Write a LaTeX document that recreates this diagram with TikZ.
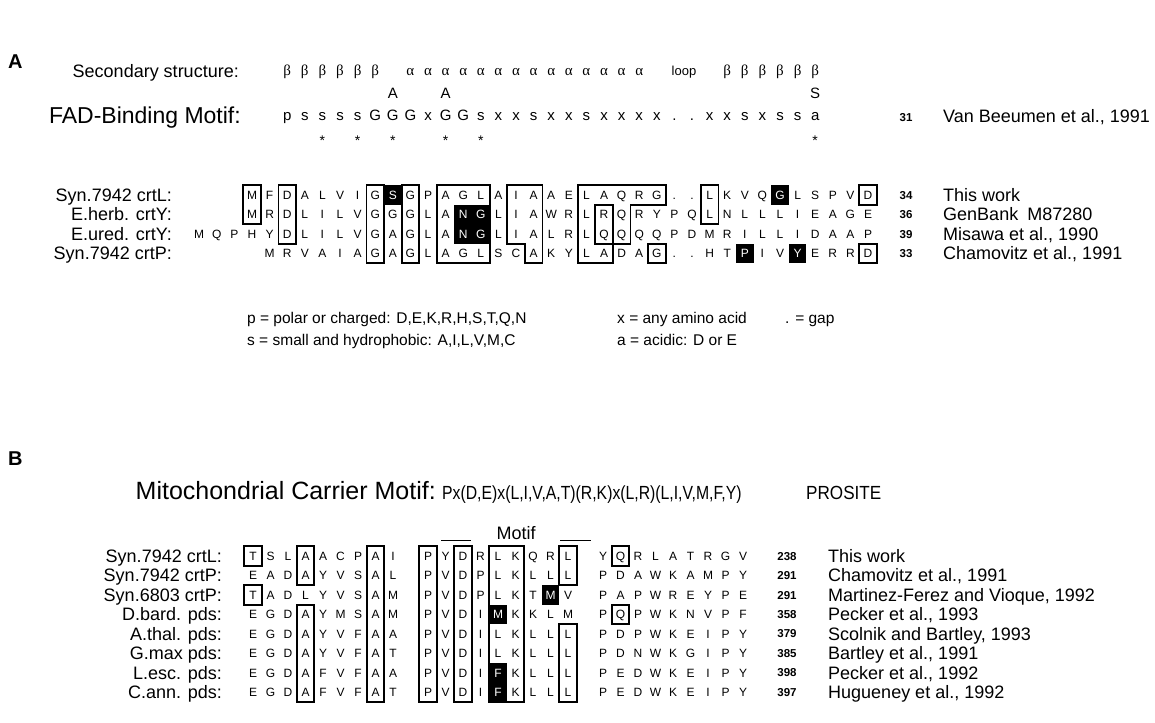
\documentclass[tikz,border=0pt]{standalone}
\usepackage{fontspec}
\setmainfont{Liberation Sans}
\newfontfamily\grk{Liberation Serif}
% ---------- helpers ----------
\newcommand{\blkA}[2]{% col row
  \fill[black] ({243.2+17.6*(#1-1)},{185.25+19.5*(#2-1)}) rectangle ++(17.6,19.5);
  \expandafter\gdef\csname blkA#2-#1\endcsname{}}
\newcommand{\boxA}[4]{% c1 c2 r1 r2
  \draw[bx] ({243.2+17.6*(#1-1)},{185.25+19.5*(#3-1)}) rectangle ({243.2+17.6*#2},{185.25+19.5*#4});}
\newcommand{\rowA}[3]{% row, start col, list
  \pgfmathsetmacro{\yy}{195+19.5*(#1-1)}%
  \foreach \ch [count=\k from #2] in {#3}{%
    \pgfmathsetmacro{\xx}{252+17.6*(\k-1)}%
    \pgfmathtruncatemacro{\nn}{\k+3}%
    \ifcsname blkA#1-\k\endcsname\def\cc{white}\else\def\cc{black}\fi
    \node[res,text=\cc] (A#1c\nn) at (\xx,\yy) {\ch};
  }}
\newcommand{\infoA}[4]{%
  \pgfmathsetmacro{\yy}{195+19.5*(#1-1)}%
  \node[lab] (lA#1) at (172,\yy+6.45) {#2};
  \node[num] (nA#1) at (906,\yy+4.1) {#3};
  \node[ref] (rA#1) at (943,\yy+6.45) {#4};}
\newcommand{\blkB}[2]{% col row
  \fill[black] ({244.25+17.5*(#1-1)},{546.275+19.45*(#2-1)}) rectangle ++(17.5,19.45);
  \expandafter\gdef\csname blkB#2-#1\endcsname{}}
\newcommand{\boxB}[4]{%
  \draw[bx] ({244.25+17.5*(#1-1)},{546.275+19.45*(#3-1)}) rectangle ({244.25+17.5*#2},{546.275+19.45*#4});}
\newcommand{\cellB}[3]{%
  \pgfmathsetmacro{\xx}{253+17.5*(#2-1)}%
  \ifcsname blkB#1-#2\endcsname\def\cc{white}\else\def\cc{black}\fi
  \node[res,text=\cc] (B#1c#2) at (\xx,\yy) {#3};}
\newcommand{\rowB}[4]{%
  \pgfmathsetmacro{\yy}{556+19.45*(#1-1)}%
  \foreach \ch [count=\k from 1] in {#2}{\cellB{#1}{\k}{\ch}}
  \foreach \ch [count=\k from 11] in {#3}{\cellB{#1}{\k}{\ch}}
  \foreach \ch [count=\k from 21] in {#4}{\cellB{#1}{\k}{\ch}}}
\newcommand{\infoB}[4]{%
  \pgfmathsetmacro{\yy}{556+19.45*(#1-1)}%
  \node[lab] (lB#1) at (222,\yy+6.45) {#2};
  \node[num] (nB#1) at (787,\yy+4.1) {#3};
  \node[ref] (rB#1) at (828,\yy+6.45) {#4};}
\begin{document}
\begin{tikzpicture}[x=1pt,y=-1pt,
 res/.style={font=\fontsize{12}{12}\selectfont,inner sep=0pt,text height=8.6pt,text depth=0pt,anchor=center},
 lab/.style={font=\fontsize{18}{20}\selectfont,inner sep=0pt,anchor=base east},
 ref/.style={font=\fontsize{18}{20}\selectfont,inner sep=0pt,anchor=base west},
 num/.style={font=\bfseries\fontsize{11.5}{12}\selectfont,inner sep=0pt,anchor=base},
 bx/.style={line width=1.8pt},
 motl/.style={font=\fontsize{15}{15}\selectfont,inner sep=0pt,anchor=base},
 grl/.style={font=\grk\fontsize{15}{15}\selectfont,inner sep=0pt,anchor=base},
 leg/.style={font=\fontsize{15.5}{16}\selectfont,inner sep=0pt,anchor=base west},
 panel/.style={font=\bfseries\fontsize{20}{20}\selectfont,inner sep=0pt,anchor=base west},
 star/.style={font=\fontsize{14}{14}\selectfont,inner sep=0pt,anchor=base},
 cond/.style={inner sep=0pt,anchor=base west},
]
\useasboundingbox[fill=white] (0,0) rectangle (1155,722);

% ================= Panel A =================
\node[panel] (pA) at (8,69) {A};
\node[lab] (ss) at (239,77.5) {Secondary structure:};
\foreach \c in {3,...,8} \node[grl] (be\c) at ({252+17.6*(\c-1)},76) {β};
\foreach \c in {10,...,23} \node[grl] (al\c) at ({252+17.6*(\c-1)},76) {α};
\node[font=\fontsize{13}{13}\selectfont,inner sep=0pt,anchor=base] (loop) at (684,76) {loop};
\foreach \c in {28,...,33} \node[grl] (bf\c) at ({252+17.6*(\c-1)},76) {β};

\node[motl] (alt9) at ({252+17.6*8},98.4) {A};
\node[motl] (alt12) at ({252+17.6*11},98.4) {A};
\node[motl] (alt33) at ({252+17.6*32},98.4) {S};

\node[font=\fontsize{23}{24}\selectfont,inner sep=0pt,anchor=base east] (fad) at (241,124) {FAD-Binding Motif:};
\foreach \ch [count=\k from 3] in {p,s,s,s,s,G,G,G,x,G,G,s,x,x,s,x,x,s,x,x,x,x,.,.,x,x,s,x,s,s,a}
  \node[motl] (m\k) at ({252+17.6*(\k-1)},121) {\ch};
\node[num] (n0) at (906,121.5) {31};
\node[ref] (r0) at (943,122.5) {Van Beeumen et al., 1991};
\foreach \c in {5,7,9,12,14,33} \node[star] (st\c) at ({252+17.6*(\c-1)},146) {*};

% black cells (before letters)
\blkA{9}{1}
\blkA{13}{2}\blkA{14}{2}\blkA{13}{3}\blkA{14}{3}
\blkA{31}{1}
\blkA{29}{4}\blkA{32}{4}

\rowA{1}{1}{M,F,D,A,L,V,I,G,S,G,P,A,G,L,A,I,A,A,E,L,A,Q,R,G,.,.,L,K,V,Q,G,L,S,P,V,D}
\rowA{2}{1}{M,R,D,L,I,L,V,G,G,G,L,A,N,G,L,I,A,W,R,L,R,Q,R,Y,P,Q,L,N,L,L,L,I,E,A,G,E}
\rowA{3}{-2}{M,Q,P,H,Y,D,L,I,L,V,G,A,G,L,A,N,G,L,I,A,L,R,L,Q,Q,Q,Q,P,D,M,R,I,L,L,I,D,A,A,P}
\rowA{4}{2}{M,R,V,A,I,A,G,A,G,L,A,G,L,S,C,A,K,Y,L,A,D,A,G,.,.,H,T,P,I,V,Y,E,R,R,D}

\infoA{1}{Syn.7942 crtL:}{34}{This work}
\infoA{2}{E.herb. crtY:}{36}{GenBank\enspace M87280}
\infoA{3}{E.ured. crtY:}{39}{Misawa et al., 1990}
\infoA{4}{Syn.7942 crtP:}{33}{Chamovitz et al., 1991}

% boxes
\boxA{1}{1}{1}{2}
\boxA{3}{3}{1}{3}
\boxA{8}{8}{1}{4}
\boxA{10}{10}{1}{4}
\boxA{12}{14}{1}{4}
\draw[bx] ({243.2+17.6*15},185.25) -- ({243.2+17.6*17},185.25) -- ({243.2+17.6*17},{185.25+19.5*4})
  -- ({243.2+17.6*16},{185.25+19.5*4}) -- ({243.2+17.6*16},{185.25+19.5*3}) -- ({243.2+17.6*15},{185.25+19.5*3}) -- cycle;
\draw[bx] ({243.2+17.6*19},185.25) -- ({243.2+17.6*24},185.25) -- ({243.2+17.6*24},{185.25+19.5})
  -- ({243.2+17.6*22},{185.25+19.5}) -- ({243.2+17.6*22},{185.25+19.5*3}) -- ({243.2+17.6*21},{185.25+19.5*3})
  -- ({243.2+17.6*21},{185.25+19.5*4}) -- ({243.2+17.6*19},{185.25+19.5*4}) -- cycle;
\boxA{21}{21}{2}{3}
\boxA{24}{24}{4}{4}
\boxA{27}{27}{1}{2}
\boxA{36}{36}{1}{1}
\boxA{36}{36}{4}{4}

% legend
\node[leg] (lg1) at (247,323.5) {p = polar or charged: D,E,K,R,H,S,T,Q,N};
\node[leg] (lg2) at (247,345.5) {s = small and hydrophobic: A,I,L,V,M,C};
\node[leg] (lg3) at (617,323.5) {x = any amino acid};
\node[leg] (lg4) at (617,345.5) {a = acidic: D or E};
\node[leg] (lg5) at (785,323.5) {. = gap};

% ================= Panel B =================
\node[panel] (pB) at (8,465) {B};
\node[font=\fontsize{25}{26}\selectfont,inner sep=0pt,anchor=base east] (mito) at (436,499.5) {Mitochondrial Carrier Motif:};
\node[cond] (pat) at (442,499) {\scalebox{0.83}[1]{\fontsize{19}{19}\selectfont Px(D,E)x(L,I,V,A,T)(R,K)x(L,R)(L,I,V,M,F,Y)}};
\node[cond] (pros) at (806,499) {\scalebox{0.9}[1]{\fontsize{19}{19}\selectfont PROSITE}};

\node[font=\fontsize{18}{18}\selectfont,inner sep=0pt,anchor=base] (motif) at (516,539) {Motif};
\draw[line width=1.2pt] (441,540.5) -- (471,540.5);
\draw[line width=1.2pt] (560,540.5) -- (591,540.5);

\blkB{18}{3}
\blkB{15}{4}\blkB{15}{7}\blkB{15}{8}

\rowB{1}{T,S,L,A,A,C,P,A,I}{P,Y,D,R,L,K,Q,R,L}{Y,Q,R,L,A,T,R,G,V}
\rowB{2}{E,A,D,A,Y,V,S,A,L}{P,V,D,P,L,K,L,L,L}{P,D,A,W,K,A,M,P,Y}
\rowB{3}{T,A,D,L,Y,V,S,A,M}{P,V,D,P,L,K,T,M,V}{P,A,P,W,R,E,Y,P,E}
\rowB{4}{E,G,D,A,Y,M,S,A,M}{P,V,D,I,M,K,K,L,M}{P,Q,P,W,K,N,V,P,F}
\rowB{5}{E,G,D,A,Y,V,F,A,A}{P,V,D,I,L,K,L,L,L}{P,D,P,W,K,E,I,P,Y}
\rowB{6}{E,G,D,A,Y,V,F,A,T}{P,V,D,I,L,K,L,L,L}{P,D,N,W,K,G,I,P,Y}
\rowB{7}{E,G,D,A,F,V,F,A,A}{P,V,D,I,F,K,L,L,L}{P,E,D,W,K,E,I,P,Y}
\rowB{8}{E,G,D,A,F,V,F,A,T}{P,V,D,I,F,K,L,L,L}{P,E,D,W,K,E,I,P,Y}

\infoB{1}{Syn.7942 crtL:}{238}{This work}
\infoB{2}{Syn.7942 crtP:}{291}{Chamovitz et al., 1991}
\infoB{3}{Syn.6803 crtP:}{291}{Martinez-Ferez and Vioque, 1992}
\infoB{4}{D.bard. pds:}{358}{Pecker et al., 1993}
\infoB{5}{A.thal. pds:}{379}{Scolnik and Bartley, 1993}
\infoB{6}{G.max pds:}{385}{Bartley et al., 1991}
\infoB{7}{L.esc. pds:}{398}{Pecker et al., 1992}
\infoB{8}{C.ann. pds:}{397}{Hugueney et al., 1992}

\boxB{1}{1}{1}{1}
\boxB{1}{1}{3}{3}
\boxB{4}{4}{1}{2}
\boxB{4}{4}{4}{8}
\boxB{8}{8}{1}{8}
\boxB{11}{11}{1}{8}
\boxB{13}{13}{1}{8}
\boxB{15}{16}{1}{8}
\boxB{19}{19}{1}{2}
\boxB{19}{19}{5}{8}
\boxB{22}{22}{1}{1}
\boxB{22}{22}{4}{4}
\end{tikzpicture}
\end{document}
